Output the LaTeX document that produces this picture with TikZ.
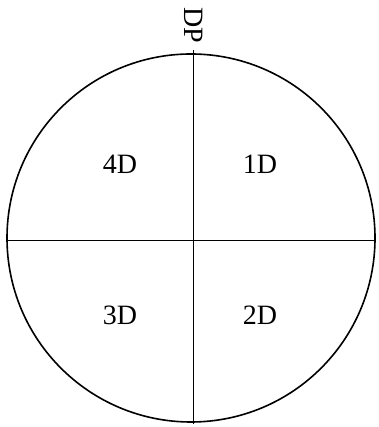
\documentclass[tikz,border=0pt]{standalone}
\usepackage{fontspec}
\setmainfont{Liberation Serif}
\begin{document}
\begin{tikzpicture}[x=1pt,y=1pt,
  lbl/.style={font=\fontsize{28}{30}\selectfont, inner sep=0pt},
  outline/.style={draw=black, line width=1.6pt},
  divider/.style={draw=black, line width=0.9pt}]
\useasboundingbox (0,0) rectangle (378,427);
\node[circle, outline, minimum size=368pt, inner sep=0pt] (disc) at (191,189) {};
\coordinate (top) at (193,377);
\coordinate (bot) at (193,3);
\coordinate (lft) at (7,187);
\coordinate (rgt) at (375,187);
\draw[divider] (top) -- (bot);
\draw[divider] (lft) -- (rgt);
\node[lbl, rotate=-90] (dp) at (194,402) {DP};
\node[lbl] (q4) at (120,263) {4D};
\node[lbl] (q1) at (260,263) {1D};
\node[lbl] (q3) at (120,112) {3D};
\node[lbl] (q2) at (260,112) {2D};
\end{tikzpicture}
\end{document}
